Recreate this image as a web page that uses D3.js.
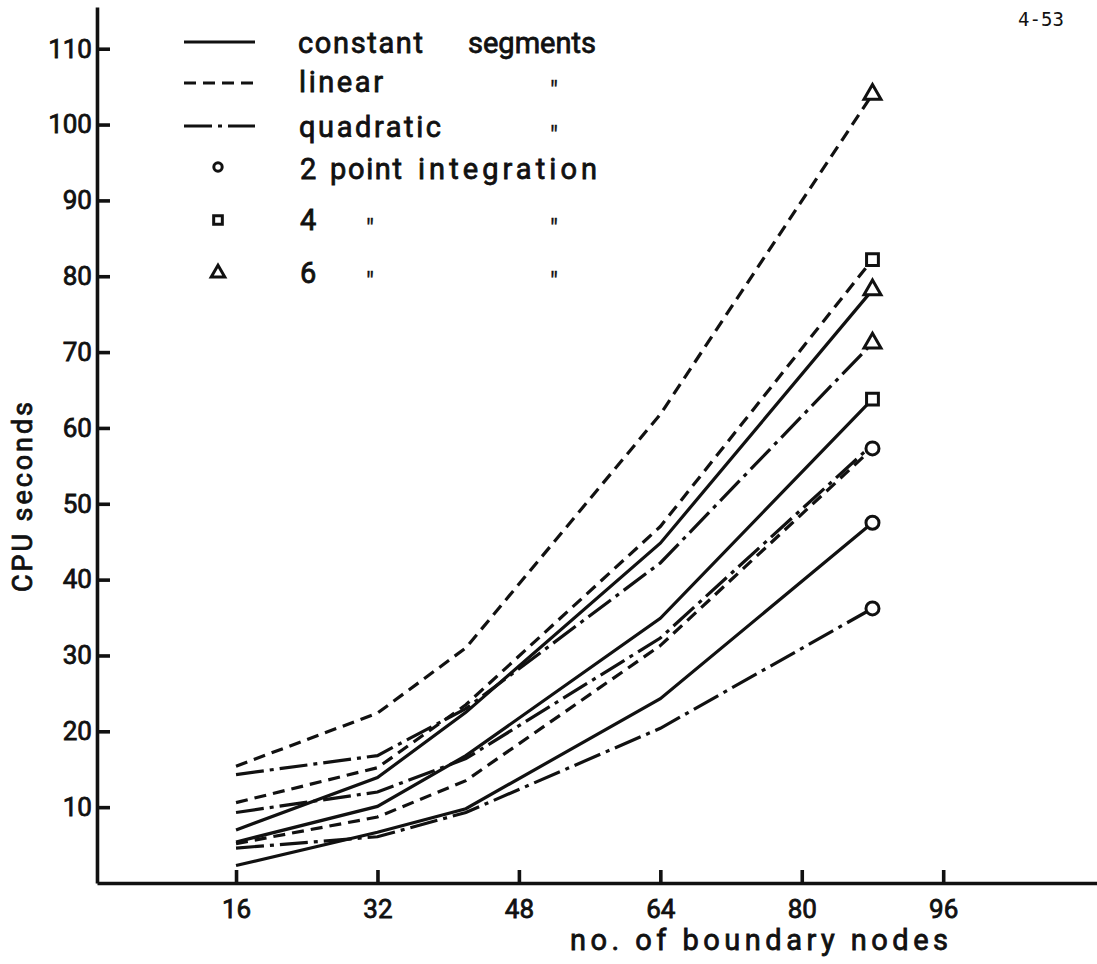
<!DOCTYPE html>
<html lang="en">
  <head>
    <meta charset="utf-8">
    <title>CPU seconds against boundary nodes</title>
    <script src="https://cdn.jsdelivr.net/npm/d3@7"></script>
    <style>
      body { margin: 0; background: white; }
      svg { display: block; font-family: Roboto, "DejaVu Sans", sans-serif; }
      /* stencil lettering is a bit heavier than Roboto regular */
      svg text { stroke: #111; stroke-width: 0.8px; }
    </style>
  </head>
  <body>
    <svg id="chart" width="1097" height="964"></svg>
    <script>

// ##########################  values  #######################

      // no. of boundary nodes of each run
      var nodes = [16, 32, 42, 64, 88];

      // CPU seconds, one array per element type / integration order
      var constant2  = [2.3, 6.7, 9.8, 24.3, 47.5];
      var constant4  = [5.4, 10.1, 16.8, 34.9, 63.8];
      var constant6  = [7.0, 13.9, 22.5, 44.8, 78.2];
      var linear2    = [5.2, 8.7, 13.5, 31.3, 57.3];
      var linear4    = [10.6, 15.2, 23.5, 47.0, 82.2];
      var linear6    = [15.4, 22.4, 31.0, 61.8, 104.0];
      var quadratic2 = [4.6, 6.1, 9.3, 20.4, 36.2];
      var quadratic4 = [9.3, 12.0, 16.4, 32.3, 57.8];
      var quadratic6 = [14.3, 16.8, 23.0, 42.2, 71.2];

      var xTicks = [16, 32, 48, 64, 80, 96];
      var yTicks = [10, 20, 30, 40, 50, 60, 70, 80, 90, 100, 110];

// ############################################################################

      // element type -> line style, integration order -> end marker
      var dashes = { constant: null, linear: "12,7", quadratic: "28,6,4,6" };
      var symbols = { circle: d3.symbolCircle, square: d3.symbolSquare, triangle: d3.symbolTriangle };

      var series = [
        { type: "constant",  values: constant2,  marker: "circle" },
        { type: "constant",  values: constant4,  marker: "square" },
        { type: "constant",  values: constant6,  marker: "triangle" },
        { type: "linear",    values: linear2,    marker: "circle" },
        { type: "linear",    values: linear4,    marker: "square" },
        { type: "linear",    values: linear6,    marker: "triangle" },
        { type: "quadratic", values: quadratic2, marker: "circle" },
        { type: "quadratic", values: quadratic4, marker: null },  // hidden under the circle
        { type: "quadratic", values: quadratic6, marker: "triangle" }
      ];

      var ink = "#111";
      var svg = d3.select("#chart");

      var x = d3.scaleLinear().domain([0, 113.4]).range([94.6, 1097]);
      var y = d3.scaleLinear().domain([0, 115.5]).range([883, 7]);
      var xStart = 0.27;   // the vertical axis stands a hair right of zero

      var xAxisScale = x.copy().domain([xStart, 113.4]).range([x(xStart), x(113.4)]);

      var gx = svg.append("g").
          attr("transform", "translate(0," + y(0) + ")").
          call(d3.axisBottom(xAxisScale).tickValues(xTicks).
               tickSizeInner(-13).tickSizeOuter(0).tickPadding(17));
      var gy = svg.append("g").
          attr("transform", "translate(" + x(xStart) + ",0)").
          call(d3.axisLeft(y).tickValues(yTicks).
               tickSizeInner(-13).tickSizeOuter(0).tickPadding(5));

      [gx, gy].forEach(function (g) {
        g.attr("font-family", 'Roboto, "DejaVu Sans", sans-serif').attr("font-size", 26);
        g.selectAll("path, line").attr("stroke", ink).attr("stroke-width", 3.6);
        g.selectAll("text").attr("fill", ink);
      });

      var line = d3.line().
          x(function (d, i) { return x(nodes[i]); }).
          y(function (d) { return y(d); });

      svg.append("g").selectAll("path").data(series).enter().
          append("path").
          attr("d", function (s) { return line(s.values); }).
          attr("fill", "none").
          attr("stroke", ink).
          attr("stroke-width", 3.2).
          attr("stroke-dasharray", function (s) { return dashes[s.type]; });

      var sizes = { circle: 133, square: 140, triangle: 125 };
      svg.append("g").selectAll("path").
          data(series.filter(function (s) { return s.marker; })).enter().
          append("path").
          attr("transform", function (s) {
            var last = s.values.length - 1;
            return "translate(" + x(nodes[last]) + "," + y(s.values[last]) + ")";
          }).
          attr("d", function (s) { return d3.symbol(symbols[s.marker], sizes[s.marker])(); }).
          attr("fill", "white").
          attr("stroke", ink).
          attr("stroke-width", 3);

      // legend
      function label(str, px, py, len, size) {
        var t = svg.append("text").attr("x", px).attr("y", py).
            attr("font-size", size || 29).attr("fill", ink).text(str);
        if (len) t.attr("textLength", len).attr("lengthAdjust", "spacing");
        return t;
      }
      function ditto(px, py) {
        label('"', px, py + 7, null, 25).style("stroke-width", "0.3px");
      }

      [["constant", 42], ["linear", 83], ["quadratic", 126]].forEach(function (r) {
        svg.append("line").
            attr("x1", 184).attr("x2", 255).attr("y1", r[1]).attr("y2", r[1]).
            attr("stroke", ink).attr("stroke-width", 3).
            attr("stroke-dasharray", dashes[r[0]]);
      });
      [["circle", 167, 55], ["square", 220, 75], ["triangle", 273, 80]].forEach(function (r) {
        svg.append("path").
            attr("transform", "translate(218," + r[1] + ")").
            attr("d", d3.symbol(symbols[r[0]], r[2])()).
            attr("fill", "white").attr("stroke", ink).attr("stroke-width", 3);
      });

      label("constant", 298, 53, 125);
      label("segments", 468, 53, 128);
      label("linear", 299, 92, 84);
      ditto(550, 92);
      label("quadratic", 299, 137, 142);
      ditto(550, 137);
      label("2", 300, 179);
      label("point", 330, 179, 72);
      label("integration", 418, 179, 179);
      label("4", 300, 230);
      ditto(366, 230);
      ditto(550, 230);
      label("6", 300, 283);
      ditto(366, 283);
      ditto(550, 283);

      // axis titles and page number
      label("no. of boundary nodes", 570, 950, 378, 29);
      label("CPU seconds", 0, 0, 190, 27).
          attr("text-anchor", "middle").
          attr("transform", "translate(32,497) rotate(-90)");
      label("4-53", 1018, 26, 46, 19).
          attr("font-family", '"DejaVu Sans Mono", monospace').
          style("stroke-width", "0px");
    </script>
  </body>
</html>
